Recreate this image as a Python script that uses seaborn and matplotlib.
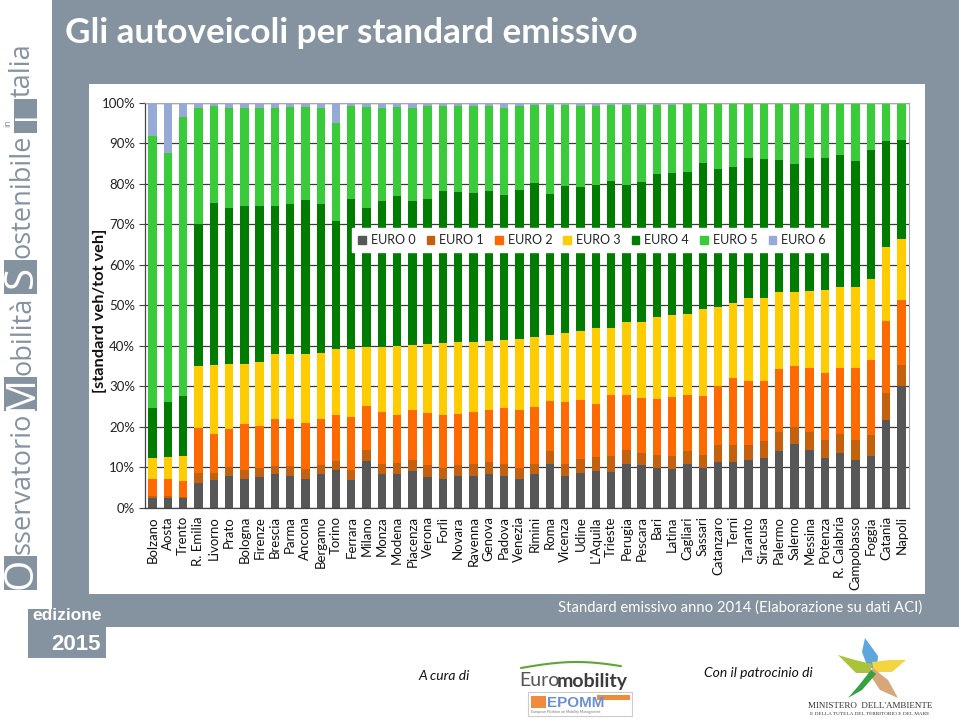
import numpy as np
import pandas as pd
import matplotlib.pyplot as plt
import matplotlib.patches as mpatches
from matplotlib.lines import Line2D
import seaborn as sns

# ---------- data: share of cars per emission standard (%) ----------
cities = ["Bolzano", "Aosta", "Trento", "R. Emilia", "Livorno", "Prato", "Bologna",
          "Firenze", "Brescia", "Parma", "Ancona", "Bergamo", "Torino", "Ferrara",
          "Milano", "Monza", "Modena", "Piacenza", "Verona", "Forlì", "Novara",
          "Ravenna", "Genova", "Padova", "Venezia", "Rimini", "Roma", "Vicenza",
          "Udine", "L'Aquila", "Trieste", "Perugia", "Pescara", "Bari", "Latina",
          "Cagliari", "Sassari", "Catanzaro", "Terni", "Taranto", "Siracusa",
          "Palermo", "Salerno", "Messina", "Potenza", "R. Calabria", "Campobasso",
          "Foggia", "Catania", "Napoli"]

euro0 = [2.3, 2.5, 2.3, 6.2, 6.8, 7.8, 7.2, 7.5, 8.2, 7.8, 7.2, 8.2, 9.3, 6.8,
         11.6, 8.2, 8.3, 9.1, 7.5, 7.1, 7.8, 7.9, 8.2, 7.9, 7.0, 8.3, 10.8, 7.8,
         8.5, 9.1, 8.9, 10.9, 10.5, 9.9, 9.5, 10.7, 9.9, 11.4, 11.4, 11.8, 12.3,
         14.1, 15.7, 14.2, 12.2, 13.4, 11.9, 12.8, 21.6, 30.0]
euro1 = [0.7, 0.5, 0.4, 2.3, 1.7, 2.3, 2.2, 2.4, 2.2, 2.5, 2.4, 2.4, 2.3, 2.6,
         2.6, 2.7, 2.8, 2.8, 3.0, 2.6, 2.8, 2.8, 3.1, 2.9, 2.7, 2.6, 3.3, 3.1,
         3.5, 3.3, 3.8, 3.3, 3.1, 3.0, 3.3, 3.2, 3.1, 4.1, 4.1, 3.7, 4.2,
         4.7, 4.3, 4.6, 4.5, 4.8, 4.8, 5.1, 6.6, 5.2]
euro2 = [4.1, 4.1, 4.0, 11.3, 9.6, 9.3, 11.2, 10.3, 11.5, 11.6, 11.2, 11.2, 11.4, 12.9,
         10.9, 12.8, 11.9, 12.2, 12.9, 13.3, 12.5, 13.0, 12.8, 13.8, 14.4, 14.0, 12.2, 15.1,
         14.5, 13.2, 15.2, 13.6, 13.5, 13.9, 14.6, 13.9, 14.6, 14.6, 16.6, 15.9, 14.9,
         15.4, 15.1, 15.8, 16.6, 16.2, 17.9, 18.6, 18.0, 16.2]
euro3 = [5.1, 5.3, 6.0, 15.2, 17.1, 16.2, 15.0, 15.8, 16.0, 16.0, 17.1, 16.4, 16.3, 16.9,
         14.6, 16.1, 16.9, 16.0, 16.9, 17.7, 17.7, 17.1, 17.1, 16.9, 17.6, 17.2, 16.3, 17.2,
         17.1, 18.8, 16.5, 18.0, 18.7, 20.2, 20.3, 20.0, 21.5, 19.4, 18.5, 20.3, 20.5,
         19.0, 18.2, 19.0, 20.4, 20.0, 20.0, 20.0, 18.1, 14.9]
euro4 = [12.5, 13.6, 14.8, 35.0, 40.1, 38.5, 39.0, 38.6, 36.7, 37.1, 38.1, 36.8, 31.4, 37.1,
         34.2, 35.9, 37.1, 35.7, 35.8, 37.5, 37.1, 37.0, 37.0, 35.6, 36.7, 38.0, 34.9, 36.2,
         35.7, 35.2, 36.3, 34.0, 34.6, 35.4, 35.0, 35.2, 35.9, 34.2, 33.6, 34.6, 34.1,
         32.6, 31.6, 32.7, 32.6, 32.7, 31.1, 31.8, 26.2, 24.5]
euro5 = [67.1, 61.7, 68.9, 28.8, 23.9, 24.7, 24.2, 24.2, 24.0, 24.0, 23.0, 23.8, 24.4, 22.9,
         25.1, 22.9, 22.0, 22.8, 23.1, 21.0, 21.3, 21.4, 21.0, 21.5, 20.8, 19.3, 21.9, 20.0,
         20.0, 19.7, 18.8, 19.7, 19.0, 17.1, 16.8, 16.6, 14.6, 15.9, 15.5, 13.4, 13.7,
         14.0, 14.9, 13.5, 13.5, 12.8, 14.2, 11.6, 9.4, 9.2]
euro6 = [8.2, 12.3, 3.6, 1.2, 0.8, 1.2, 1.2, 1.2, 1.4, 1.0, 1.0, 1.2, 4.9, 0.8,
         1.0, 1.4, 1.0, 1.4, 0.8, 0.8, 0.8, 0.8, 0.8, 1.4, 0.8, 0.6, 0.6, 0.6,
         0.7, 0.7, 0.5, 0.5, 0.6, 0.5, 0.5, 0.4, 0.4, 0.4, 0.3, 0.3, 0.3,
         0.2, 0.2, 0.2, 0.2, 0.1, 0.1, 0.1, 0.1, 0.0]

standards = ["EURO 0", "EURO 1", "EURO 2", "EURO 3", "EURO 4", "EURO 5", "EURO 6"]
colors = ["#575757", "#c5600f", "#ff6a00", "#ffcc00", "#007d00", "#3acb3a", "#97a9d6"]

GRAY = "#8593a0"
W, H = 959, 719


def fx(px):
    return px / W


def fy(py):
    return 1 - py / H


def rect(x0, y0, x1, y1, **kw):
    fig.add_artist(mpatches.Rectangle((fx(x0), fy(y1)), fx(x1) - fx(x0), fy(y0) - fy(y1),
                                      transform=fig.transFigure, **kw))


sns.set_theme(style="white")
plt.rcParams["font.family"] = ["Lato", "DejaVu Sans"]

fig = plt.figure(figsize=(W / 100, H / 100), dpi=100)
fig.patch.set_facecolor("white")
renderer = fig.canvas.get_renderer()

# ---------- slide background ----------
rect(52, 0, 959, 627, color=GRAY, lw=0, zorder=0)
rect(28, 609, 106, 658, color=GRAY, lw=0, zorder=0)
rect(89, 84, 925, 594, color="white", lw=0, zorder=0)

fig.text(fx(65), fy(33), "Gli autoveicoli per standard emissivo", color="white",
         fontsize=25.3, fontweight="bold", va="center", ha="left")
fig.text(fx(102), fy(616), "edizione", color="white", fontsize=12.5,
         fontweight="bold", va="center", ha="right", family=["Liberation Sans"])
fig.text(fx(101), fy(645), "2015", color="white", fontsize=16,
         fontweight="bold", va="center", ha="right", family=["Liberation Sans"])
fig.text(fx(922), fy(608), "Standard emissivo anno 2014 (Elaborazione su dati ACI)",
         color="white", fontsize=10.7, va="center", ha="right")

# ---------- vertical brand strip (built bottom-up) ----------
brand_font = ["Open Sans", "DejaVu Sans"]
pieces = [("box", "O"), ("text", "sservatorio"), ("box", "M"), ("text", "obilità"),
          ("box", "S"), ("text", "ostenibile"), ("box", "I"), ("text", "talia")]
ycur = 590
box = 34
for kind, s in pieces:
    if kind == "box":
        x0 = 4 if s != "I" else 14
        rect(x0, ycur - box, 37, ycur, color=GRAY, lw=0)
        fig.text(fx((x0 + 37) / 2 + 1), fy(ycur - box / 2), s, rotation=90, ha="center",
                 va="center", color="white", fontsize=29 if s != "I" else 22,
                 family=brand_font)
        if s == "I":
            fig.text(fx(8), fy(ycur - 10), "in", rotation=90, ha="center",
                     va="center", color=GRAY, fontsize=6.5, family=brand_font)
        ycur -= box + 2
    else:
        t = fig.text(fx(23), fy(ycur), s, rotation=90, ha="center", va="bottom",
                     color=GRAY, fontsize=19.5, family=brand_font)
        ycur -= t.get_window_extent(renderer).height + 2

# ---------- stacked bars ----------
shares = pd.DataFrame(dict(zip(standards, [euro0, euro1, euro2, euro3, euro4, euro5, euro6])))
shares["city"] = cities
cum = shares.set_index("city")[standards].cumsum(axis=1).clip(upper=100)
long_df = cum.reset_index().melt(id_vars="city", var_name="standard", value_name="cum")

ax = fig.add_axes([fx(145), fy(507.7), fx(909) - fx(145), fy(102.7) - fy(507.7)])
for std, col in reversed(list(zip(standards, colors))):
    sns.barplot(data=long_df[long_df["standard"] == std], x="city", y="cum",
                order=cities, color=col, saturation=1, width=0.55,
                errorbar=None, linewidth=0, ax=ax)

ax.set_xlim(-0.5, len(cities) - 0.5)
ax.set_ylim(0, 100)
ax.set_yticks(np.arange(0, 101, 10))
ax.set_yticklabels([f"{v}%" for v in range(0, 101, 10)], fontsize=9.5, color="#222222")
ax.set_xticks(range(len(cities)))
ax.set_xticklabels(cities, rotation=90, fontsize=9.5, color="#111111")
ax.set_xticks(np.arange(-0.5, len(cities), 1), minor=True)
ax.tick_params(axis="x", which="major", length=0, pad=6)
ax.tick_params(axis="x", which="minor", length=4, width=0.8, color="#444444", direction="out")
ax.tick_params(axis="y", length=4, width=0.8, color="#444444", direction="out", pad=3,
               left=True)
ax.set_xlabel("")
ax.set_ylabel("")
ax.yaxis.grid(True, color="#3a3a3a", lw=0.9)
ax.xaxis.grid(False)
ax.set_axisbelow(True)
for side in ["left", "bottom"]:
    ax.spines[side].set_color("#444444")
    ax.spines[side].set_linewidth(0.9)
for side in ["top", "right"]:
    ax.spines[side].set_color("#a8a8a8")
    ax.spines[side].set_linewidth(0.8)

fig.text(fx(100), fy(311), "[standard veh/tot veh]", rotation=90, ha="center",
         va="center", fontsize=11.8, fontweight="bold", color="#111111")

handles = [mpatches.Patch(color=c, label=s) for s, c in zip(standards, colors)]
leg = ax.legend(handles=handles, loc="center", ncol=7, fontsize=9,
                bbox_to_anchor=(fx(592), fy(240)), bbox_transform=fig.transFigure,
                handlelength=0.6, handleheight=0.6, handletextpad=0.4,
                columnspacing=0.9, frameon=True, fancybox=False, borderpad=0.5)
leg.get_frame().set_facecolor("white")
leg.get_frame().set_edgecolor("white")
leg.get_frame().set_alpha(1)

# ---------- footer ----------
fig.text(fx(470), fy(676), "A cura di", fontsize=10, style="italic", ha="right",
         va="center", color="#111111")
fig.text(fx(813), fy(673), "Con il patrocinio di", fontsize=10, style="italic",
         ha="right", va="center", color="#111111")

# Euromobility logo
t = np.linspace(0, 1, 30)
fig.add_artist(Line2D(fx(521 + 100 * t), fy(668 - 6 * np.sin(np.pi * t * 0.9)),
                      transform=fig.transFigure, color="#5aa832", lw=1.5))
fig.text(fx(519), fy(681), "Euro", fontsize=14, color="#555555", ha="left",
         va="center")
fig.text(fx(557), fy(681), "mobility", fontsize=14, fontweight="bold",
         color="#3c3c3c", ha="left", va="center")
rect(528, 692, 632, 716, facecolor="white", edgecolor="#cccccc", lw=0.8)
rect(531, 696, 546, 708, color="#f08a3c", lw=0)
rect(597, 695, 630, 700, color="#f08a3c", lw=0)
fig.text(fx(547), fy(703), "EPOMM", fontsize=11, fontweight="bold", color="#6b8fd6",
         ha="left", va="center", family=["Liberation Sans"])
fig.text(fx(531), fy(712), "European Platform on Mobility Management", fontsize=2.5,
         color="#777777", ha="left", va="center")

# Ministry logo
petals = [
    ("#5da7dc", [(868, 668), (862, 652), (865, 638), (878, 656), (877, 668)]),
    ("#a9c43a", [(872, 664), (855, 660), (838, 655), (856, 673), (870, 673)]),
    ("#f3d441", [(872, 662), (890, 660), (906, 660), (892, 672), (874, 672)]),
    ("#d6a77a", [(873, 668), (888, 680), (898, 698), (880, 690), (868, 672)]),
    ("#33a33f", [(871, 670), (860, 684), (848, 698), (862, 690), (876, 674)]),
]
for col, pts in petals:
    fig.add_artist(mpatches.Polygon([(fx(x), fy(y)) for x, y in pts], closed=True,
                                    transform=fig.transFigure, color=col, lw=0))
fig.text(fx(870), fy(706), "MINISTERO  DELL'AMBIENTE", fontsize=6.5, ha="center",
         va="center", color="#333333", family=["Liberation Serif"])
fig.text(fx(870), fy(714), "E DELLA TUTELA DEL TERRITORIO E DEL MARE", fontsize=3.8,
         ha="center", va="center", color="#333333", family=["Liberation Serif"])

fig.savefig("out.png", dpi=100)
